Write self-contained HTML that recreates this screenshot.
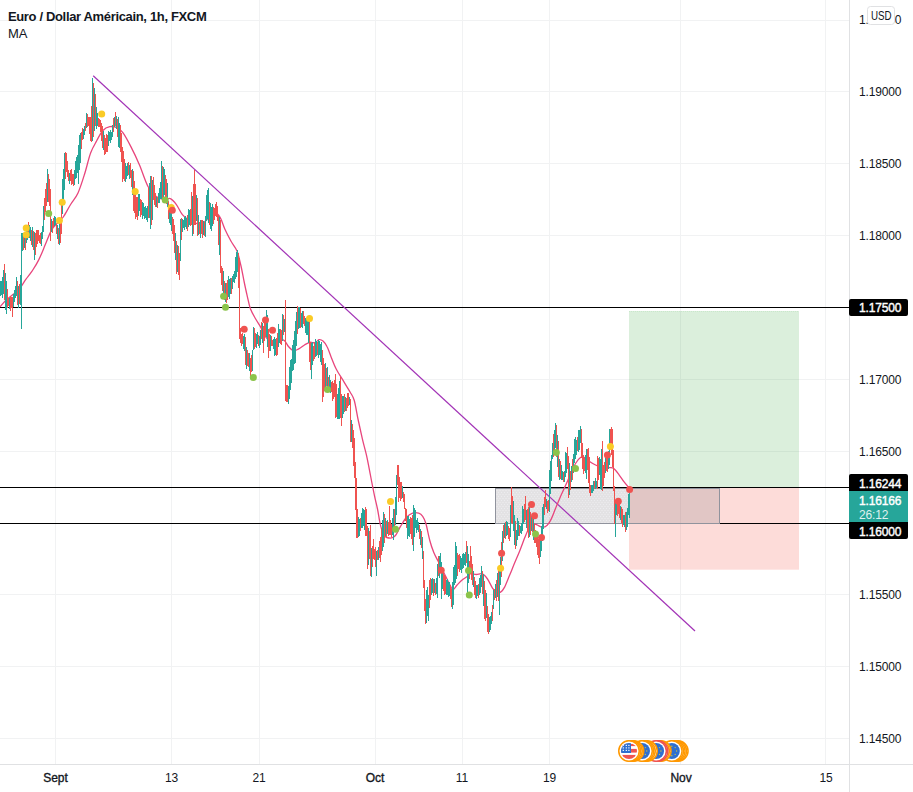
<!DOCTYPE html>
<html><head><meta charset="utf-8"><title>EURUSD</title>
<style>
html,body{margin:0;padding:0;background:#fff;}
body{width:913px;height:792px;position:relative;overflow:hidden;font-family:"Liberation Sans",sans-serif;color:#131722;}
.t{position:absolute;white-space:nowrap;}
.p{position:absolute;left:859px;font-size:12px;line-height:14px;letter-spacing:-0.15px;}
.x{position:absolute;top:771px;font-size:12px;line-height:14px;transform:translateX(-50%);letter-spacing:-0.05px;}
.m{-webkit-text-stroke:0.35px #131722;}
.lb{position:absolute;left:849px;width:59px;box-sizing:border-box;padding-left:10px;color:#fff;font-size:12px;letter-spacing:-0.15px;-webkit-text-stroke:0.4px #fff;overflow:hidden;}
</style></head><body>
<svg width="913" height="792" viewBox="0 0 913 792" style="position:absolute;left:0;top:0"><path d="M55.5 0V764M171.5 0V764M259.5 0V764M375.5 0V764M462.5 0V764M549.5 0V764M680.5 0V764M825.5 0V764M0 20.5H849M0 91.5H849M0 163.5H849M0 235.5H849M0 307.5H849M0 379.5H849M0 451.5H849M0 523.5H849M0 594.5H849M0 666.5H849M0 738.5H849" stroke="#f1f2f3" stroke-width="1" fill="none" shape-rendering="crispEdges"/><path d="M849.5 0V792M0 764.5H913" stroke="#e0e1e3" stroke-width="1" fill="none" shape-rendering="crispEdges"/><rect x="629" y="311" width="170" height="176.5" fill="rgba(76,175,80,0.2)"/><path d="M629 311.5H799" stroke="rgba(76,175,80,0.12)" stroke-width="1" stroke-dasharray="1 1" fill="none" shape-rendering="crispEdges"/><rect x="629" y="487.5" width="170" height="82.2" fill="rgba(244,67,54,0.19)"/><path d="M0 307.5H849M0 487.5H849M0 523.5H849" stroke="#000" stroke-width="1" fill="none" shape-rendering="crispEdges"/><defs><pattern id="dots" width="6" height="4" patternUnits="userSpaceOnUse"><rect x="0" y="0" width="1" height="1" fill="#ececef"/><rect x="3" y="0" width="1" height="1" fill="#ececef"/><rect x="1.5" y="2" width="1" height="1" fill="#eeeef0"/><rect x="4.5" y="2" width="1" height="1" fill="#eeeef0"/></pattern></defs><rect x="495.5" y="488.5" width="224" height="35" fill="rgba(115,112,120,0.2)" stroke="#90939d" stroke-width="1"/><rect x="496" y="489" width="133" height="34" fill="url(#dots)"/><path d="M93.2 75.8L695 631" stroke="#a233b6" stroke-width="1.2" fill="none"/><path d="M0.0 306.8C1.1 305.6 4.2 301.9 6.4 299.8C8.6 297.8 10.8 296.3 12.9 294.5C15.1 292.7 17.2 291.6 19.3 289.1C21.4 286.6 23.6 282.4 25.8 279.4C28.0 276.4 30.1 274.1 32.2 270.9C34.3 267.7 36.5 264.4 38.6 260.1C40.8 255.8 43.0 250.1 45.1 245.1C47.2 240.1 49.4 233.9 51.5 230.1C53.6 226.3 55.9 224.7 57.9 222.5C59.9 220.3 61.2 220.0 63.3 217.0C65.4 214.0 68.1 208.5 70.6 204.5C73.0 200.5 75.7 198.1 78.0 193.0C80.3 187.9 82.5 180.7 84.6 174.0C86.7 167.3 88.6 158.5 90.6 153.0C92.6 147.5 94.7 144.5 96.7 140.8C98.7 137.1 100.5 133.0 102.7 130.7C104.9 128.3 107.4 127.2 109.8 126.7C112.2 126.2 114.7 126.7 116.9 127.7C119.1 128.7 120.6 129.5 122.9 132.7C125.2 135.9 128.2 141.5 131.0 146.9C133.8 152.3 136.7 158.4 139.5 165.0C142.3 171.6 145.2 181.2 148.0 186.5C150.8 191.8 153.5 194.4 156.2 196.6C158.9 198.8 161.8 199.3 164.2 199.6C166.5 199.9 168.3 197.8 170.3 198.6C172.3 199.4 174.4 201.9 176.4 204.6C178.4 207.3 180.4 212.2 182.4 214.7C184.4 217.2 186.5 218.5 188.5 219.8C190.5 221.2 192.5 222.1 194.5 222.8C196.5 223.5 198.7 224.1 200.6 223.8C202.5 223.5 204.0 222.1 205.7 220.8C207.4 219.5 208.8 217.0 210.7 215.8C212.5 214.6 215.1 213.2 216.8 213.7C218.5 214.2 219.5 216.3 220.8 218.8C222.1 221.3 223.1 225.2 224.8 228.9C226.5 232.6 228.9 237.3 230.9 241.0C232.9 244.7 235.3 246.8 237.0 251.0C238.7 255.2 239.8 260.8 241.0 266.0C242.2 271.2 243.1 276.9 244.2 282.0C245.2 287.1 246.3 291.9 247.3 296.3C248.3 300.7 249.0 304.7 250.3 308.4C251.7 312.1 253.7 315.5 255.4 318.5C257.1 321.5 258.7 323.6 260.4 326.6C262.1 329.6 263.8 334.2 265.5 336.7C267.2 339.2 268.8 340.7 270.5 341.7C272.2 342.7 273.9 343.0 275.6 342.7C277.3 342.4 279.1 340.0 280.6 339.7C282.1 339.4 283.2 339.5 284.6 340.7C286.0 341.9 287.2 345.1 288.7 346.8C290.2 348.5 292.0 350.5 293.7 350.8C295.4 351.1 296.9 349.8 298.8 348.8C300.7 347.8 303.0 345.8 304.8 344.7C306.6 343.6 308.2 342.6 309.9 342.3C311.6 342.0 313.5 343.1 315.0 342.7C316.5 342.3 317.7 340.0 319.0 339.7C320.3 339.4 321.6 339.9 323.0 341.1C324.4 342.3 325.8 344.2 327.1 346.8C328.5 349.4 329.6 353.2 331.1 356.9C332.6 360.6 334.0 364.8 336.2 369.0C338.4 373.2 341.8 378.2 344.1 382.1C346.4 386.0 348.5 389.2 350.2 392.2C351.9 395.2 352.8 395.6 354.2 400.3C355.6 405.0 356.9 414.1 358.3 420.5C359.7 426.9 361.0 433.0 362.3 438.7C363.6 444.4 365.0 448.8 366.4 454.8C367.8 460.9 369.1 468.2 370.4 475.0C371.7 481.8 373.2 489.6 374.4 495.3C375.6 501.0 376.5 504.2 377.5 509.0C378.5 513.8 379.2 519.9 380.3 524.3C381.4 528.7 382.6 533.2 384.3 535.5C386.0 537.8 388.5 538.1 390.4 538.1C392.3 538.1 393.8 537.5 395.5 535.5C397.2 533.5 398.6 529.4 400.5 526.4C402.4 523.4 404.6 519.5 406.6 517.3C408.6 515.1 410.6 513.9 412.6 513.2C414.6 512.5 417.0 512.7 418.7 513.2C420.4 513.7 421.5 514.6 422.7 516.3C423.9 518.0 424.6 519.3 425.8 523.3C427.0 527.3 428.5 535.6 429.8 540.5C431.1 545.4 432.3 548.9 433.8 552.6C435.3 556.3 437.0 559.0 438.9 562.7C440.8 566.4 443.0 571.1 444.9 574.8C446.8 578.5 448.6 582.5 450.0 585.0C451.4 587.5 451.8 589.6 453.0 589.6C454.2 589.6 455.6 586.6 457.1 585.0C458.6 583.4 460.4 581.3 462.1 579.9C463.8 578.5 465.8 577.5 467.2 576.5C468.6 575.5 468.8 574.2 470.3 573.9C471.8 573.6 474.4 574.5 476.4 574.5C478.4 574.5 480.5 573.1 482.4 573.9C484.2 574.6 485.8 576.6 487.5 579.0C489.2 581.4 491.0 585.9 492.5 588.1C494.0 590.3 495.2 591.4 496.6 592.1C498.0 592.8 499.3 592.9 500.6 592.1C501.9 591.3 503.1 590.0 504.6 587.1C506.1 584.2 508.0 579.0 509.7 575.0C511.4 571.0 513.0 566.8 514.7 562.8C516.4 558.8 518.1 554.9 519.8 550.7C521.5 546.5 523.3 541.3 524.8 537.6C526.3 533.9 527.5 530.8 528.9 528.5C530.2 526.2 531.5 524.6 532.9 524.0C534.2 523.4 535.5 524.3 537.0 524.8C538.5 525.3 540.4 527.1 542.1 527.2C543.8 527.3 545.7 526.6 547.2 525.2C548.7 523.9 549.9 521.8 551.2 519.1C552.6 516.4 553.8 512.7 555.3 509.0C556.8 505.3 558.6 500.8 560.3 496.9C562.0 493.0 563.7 489.5 565.4 485.8C567.1 482.1 568.7 478.3 570.4 474.6C572.1 470.9 573.8 466.4 575.5 463.5C577.2 460.6 579.0 458.5 580.5 457.5C582.0 456.5 583.0 456.8 584.5 457.5C586.0 458.2 587.9 460.3 589.6 461.5C591.3 462.7 592.9 463.6 594.6 464.5C596.3 465.4 598.0 466.1 599.7 466.6C601.4 467.1 603.0 467.4 604.7 467.6C606.4 467.8 608.3 467.4 609.8 467.6C611.3 467.8 612.3 467.4 613.8 468.6C615.3 469.8 617.2 472.4 618.9 474.6C620.6 476.8 622.2 479.5 623.9 481.7C625.6 483.9 628.1 486.8 629.0 487.8" stroke="#e8457c" stroke-width="1.3" fill="none" stroke-linejoin="round"/><g shape-rendering="crispEdges"><path d="M0.5 281.3V296.1M1.5 280.5V295.0M2.5 277.1V298.0M3.5 270.1V294.4M5.5 272.8V310.1M6.5 281.1V314.0M9.5 298.4V308.9M13.5 293.8V306.9M14.5 289.5V302.1M15.5 285.8V298.4M16.5 276.5V296.2M18.5 285.5V308.1M20.5 274.5V304.7M21.5 232.7V328.9M22.5 232.8V251.2M24.5 234.3V247.8M26.5 226.1V243.2M27.5 225.5V239.7M29.5 224.7V238.0M30.5 227.2V241.2M32.5 227.1V246.9M34.5 231.9V260.0M41.5 231.5V245.7M42.5 226.4V239.1M43.5 206.3V231.6M47.5 169.4V201.6M51.5 219.1V231.6M54.5 216.4V225.5M55.5 216.7V225.0M57.5 225.0V238.7M59.5 223.3V244.9M62.5 178.7V214.0M63.5 169.3V204.3M64.5 153.4V189.7M69.5 172.5V184.4M74.5 170.4V185.3M75.5 161.0V178.7M76.5 156.6V178.4M77.5 154.8V173.0M78.5 145.2V183.7M79.5 135.3V170.3M80.5 133.2V162.5M83.5 129.3V138.5M84.5 126.4V134.6M86.5 113.2V128.3M92.5 78.1V141.3M94.5 88.1V130.6M96.5 107.0V128.8M97.5 112.6V126.3M103.5 131.3V149.6M108.5 130.9V146.2M109.5 132.2V141.4M110.5 130.1V142.9M111.5 131.7V139.6M112.5 124.7V136.5M114.5 116.6V126.9M116.5 115.8V128.7M118.5 116.9V146.5M119.5 122.9V147.8M125.5 163.3V182.2M126.5 165.6V178.5M127.5 162.5V176.4M129.5 165.1V179.2M132.5 168.8V194.9M138.5 194.2V215.5M139.5 194.1V211.3M142.5 201.9V219.2M143.5 202.5V216.3M144.5 207.3V219.1M145.5 205.8V218.2M146.5 208.1V219.7M147.5 205.5V222.2M149.5 183.0V218.1M150.5 176.3V228.9M152.5 180.0V220.2M156.5 196.9V207.3M158.5 193.2V203.3M159.5 188.1V202.8M160.5 181.5V199.3M161.5 161.2V199.1M163.5 166.9V196.9M164.5 169.4V194.9M167.5 182.7V206.6M169.5 204.8V223.3M170.5 209.1V224.5M171.5 211.0V230.6M175.5 233.1V260.1M177.5 244.7V272.4M180.5 218.5V261.2M182.5 219.4V232.4M183.5 220.3V227.9M184.5 217.3V229.6M185.5 216.1V227.3M186.5 218.3V229.0M188.5 209.2V226.9M189.5 209.8V225.4M192.5 196.0V235.7M196.5 195.2V220.5M198.5 215.4V234.7M200.5 220.2V237.5M203.5 221.3V235.2M205.5 216.0V237.3M206.5 194.9V221.0M207.5 190.3V219.0M208.5 187.9V222.8M210.5 202.8V229.0M211.5 206.8V230.7M212.5 204.2V225.8M219.5 216.9V254.9M223.5 270.9V295.2M225.5 282.7V301.9M228.5 275.9V296.9M229.5 279.2V298.5M230.5 277.5V293.7M232.5 276.3V288.6M233.5 273.5V282.3M234.5 270.6V282.8M235.5 256.8V278.5M236.5 252.2V277.2M237.5 250.4V272.3M243.5 336.2V349.0M244.5 333.9V350.8M246.5 346.6V368.6M249.5 353.2V371.0M252.5 350.2V370.7M253.5 326.6V350.3M256.5 334.2V347.5M257.5 331.5V343.6M259.5 335.8V348.4M260.5 330.1V345.4M262.5 323.0V343.3M266.5 309.9V337.2M267.5 315.3V347.3M270.5 335.0V350.6M273.5 339.3V348.5M274.5 337.4V356.0M275.5 338.9V354.9M278.5 324.1V346.7M279.5 329.3V342.5M282.5 314.0V341.1M284.5 318.9V332.0M288.5 385.8V404.1M289.5 366.6V398.6M290.5 359.5V390.3M291.5 358.8V382.7M292.5 344.6V371.2M293.5 339.5V370.2M294.5 330.9V364.3M295.5 321.1V362.6M296.5 312.2V345.5M298.5 306.8V329.2M299.5 306.5V328.2M301.5 312.7V327.4M302.5 311.0V327.9M305.5 317.5V332.8M306.5 319.1V334.6M307.5 320.9V335.4M308.5 320.4V342.7M311.5 343.0V378.6M312.5 342.2V365.3M315.5 338.9V357.4M316.5 340.9V356.2M318.5 339.7V358.0M319.5 340.8V354.6M320.5 343.6V362.3M321.5 342.2V365.3M325.5 363.2V389.3M327.5 366.8V387.2M329.5 375.3V392.4M330.5 379.8V392.7M337.5 394.3V419.3M338.5 387.8V418.8M339.5 380.5V418.7M342.5 396.1V417.6M343.5 396.4V414.3M345.5 396.5V411.4M349.5 397.2V405.4M351.5 419.9V442.2M358.5 516.9V536.9M359.5 519.2V536.1M361.5 512.9V528.0M362.5 508.2V527.7M363.5 508.7V526.0M364.5 509.9V529.7M368.5 527.6V565.4M371.5 548.4V577.3M376.5 550.7V576.1M378.5 547.4V559.8M382.5 519.9V550.7M383.5 511.7V546.8M385.5 517.7V535.8M387.5 519.6V534.0M392.5 518.1V534.8M393.5 509.4V539.6M395.5 496.6V525.4M396.5 474.5V514.9M402.5 485.8V497.8M407.5 515.8V539.1M408.5 515.6V535.9M409.5 519.0V536.9M413.5 504.7V550.9M414.5 507.8V536.5M415.5 509.9V527.9M416.5 519.6V533.1M417.5 518.1V530.1M418.5 522.1V531.9M420.5 528.5V544.6M422.5 537.0V559.3M426.5 590.1V622.6M427.5 587.2V615.8M428.5 594.7V620.7M431.5 578.5V594.7M432.5 577.7V592.7M434.5 579.1V592.9M436.5 577.8V594.0M437.5 564.1V597.6M439.5 556.2V578.3M440.5 552.7V572.9M441.5 562.3V599.2M442.5 569.4V588.7M446.5 579.6V595.2M447.5 578.8V595.0M448.5 582.4V596.8M449.5 581.8V596.3M452.5 581.8V608.5M453.5 567.1V605.0M454.5 564.6V584.5M455.5 541.9V583.4M456.5 546.2V579.1M460.5 556.2V570.4M461.5 557.5V573.0M462.5 554.0V569.2M463.5 553.1V568.3M464.5 554.1V564.7M465.5 552.0V565.9M467.5 546.2V593.0M468.5 553.5V582.7M473.5 571.3V586.9M476.5 585.3V599.1M477.5 584.6V595.8M479.5 577.6V595.1M480.5 575.1V593.0M481.5 565.5V586.6M483.5 574.3V606.2M486.5 592.5V617.5M489.5 617.2V632.2M490.5 615.6V630.3M491.5 611.9V623.9M493.5 589.9V608.5M495.5 584.0V598.3M497.5 573.4V597.0M499.5 571.4V614.6M500.5 556.7V585.1M502.5 530.7V561.3M504.5 523.4V538.3M506.5 521.2V536.2M507.5 521.8V535.2M510.5 504.5V536.8M513.5 500.9V531.0M514.5 514.9V544.9M516.5 530.1V546.0M517.5 517.8V540.2M518.5 521.0V536.0M520.5 525.6V533.0M521.5 523.1V534.2M522.5 505.8V530.8M523.5 508.7V524.3M526.5 509.6V528.4M529.5 506.2V536.7M531.5 515.8V530.5M533.5 517.4V540.0M540.5 535.8V557.1M541.5 525.9V550.7M542.5 506.6V541.3M543.5 503.7V529.4M546.5 499.1V509.4M549.5 470.1V511.7M550.5 461.3V494.0M551.5 455.1V480.9M552.5 442.5V458.7M554.5 429.9V452.6M555.5 422.5V447.9M557.5 435.0V466.9M559.5 458.6V480.3M561.5 464.8V480.4M562.5 470.7V480.0M564.5 470.5V481.9M565.5 452.2V476.8M566.5 452.6V472.5M569.5 462.5V494.9M571.5 466.0V482.0M573.5 453.7V473.1M574.5 438.9V462.9M575.5 436.6V458.6M576.5 440.2V455.1M578.5 430.3V451.6M579.5 429.5V450.1M580.5 425.6V442.9M585.5 454.7V472.5M586.5 449.1V479.1M591.5 485.2V492.7M592.5 485.4V492.6M593.5 481.0V491.0M595.5 478.3V488.7M596.5 481.2V488.4M599.5 457.0V475.1M600.5 459.1V488.5M601.5 449.0V490.2M605.5 458.1V473.0M608.5 450.5V469.2M609.5 429.2V464.5M615.5 499.7V537.1M616.5 500.3V515.3M620.5 505.5V520.4M623.5 515.3V525.4M624.5 514.6V526.7M626.5 512.2V529.7M627.5 507.6V526.5M628.5 494.0V514.9M629.5 491.1V518.3" stroke="#26a69a" stroke-width="1" fill="none"/><path d="M4.5 263.7V300.2M7.5 288.7V307.5M8.5 297.7V306.0M10.5 296.2V310.7M11.5 296.7V307.6M12.5 296.7V317.4M17.5 280.8V304.5M19.5 283.6V303.5M23.5 234.5V249.9M25.5 232.2V249.7M28.5 221.8V237.9M31.5 229.7V244.9M33.5 230.7V249.9M35.5 233.2V255.4M36.5 229.6V246.8M37.5 230.4V244.0M38.5 230.4V240.7M39.5 234.5V242.6M40.5 233.4V244.1M44.5 198.2V219.6M45.5 188.8V212.4M46.5 182.6V205.8M48.5 173.5V201.6M49.5 178.8V205.9M50.5 188.9V240.6M52.5 220.8V233.3M53.5 218.3V227.3M56.5 223.7V233.8M58.5 227.8V243.7M60.5 221.0V243.4M61.5 205.0V233.6M65.5 151.6V179.2M66.5 153.2V172.4M67.5 161.4V176.7M68.5 169.8V181.1M70.5 169.7V180.8M71.5 169.3V184.6M72.5 173.5V183.7M73.5 173.6V185.6M81.5 132.1V149.0M82.5 127.8V140.2M85.5 122.9V130.8M87.5 113.5V127.2M88.5 117.2V126.4M89.5 116.9V133.9M90.5 117.2V140.8M91.5 105.7V141.5M93.5 83.4V137.2M95.5 94.4V126.4M98.5 117.8V127.0M99.5 119.0V127.3M100.5 120.4V131.5M101.5 122.9V140.7M102.5 126.3V148.0M104.5 135.1V155.2M105.5 138.2V154.3M106.5 133.8V152.0M107.5 135.0V152.4M113.5 118.3V132.2M115.5 112.0V125.9M117.5 119.1V136.6M120.5 124.5V151.6M121.5 132.5V162.1M122.5 147.0V181.5M123.5 151.3V178.6M124.5 158.9V180.5M128.5 161.7V174.8M130.5 162.7V178.0M131.5 169.8V187.0M133.5 170.9V210.7M134.5 181.1V213.3M135.5 191.4V219.1M136.5 197.3V217.3M137.5 197.3V219.6M140.5 198.9V217.0M141.5 199.5V215.2M148.5 188.1V217.5M151.5 176.4V224.6M153.5 176.6V199.8M154.5 184.7V205.1M155.5 192.9V206.9M157.5 197.3V208.1M162.5 165.7V199.8M165.5 175.1V198.0M166.5 178.9V203.6M168.5 201.1V219.2M172.5 217.2V233.7M173.5 218.7V240.5M174.5 225.3V253.3M176.5 240.6V273.7M178.5 246.1V274.7M179.5 253.4V279.7M181.5 218.3V240.3M187.5 215.0V231.3M190.5 208.7V226.1M191.5 191.5V224.8M193.5 183.8V233.8M194.5 169.7V225.4M195.5 183.6V225.1M197.5 198.4V235.7M199.5 222.1V234.3M201.5 220.4V234.0M202.5 219.7V237.6M204.5 221.7V236.4M209.5 202.3V225.2M213.5 206.7V224.4M214.5 208.4V220.0M215.5 204.2V216.1M216.5 202.2V217.1M217.5 205.8V221.4M218.5 214.6V244.9M220.5 220.1V273.0M221.5 266.0V284.9M222.5 267.8V291.2M224.5 281.3V299.5M226.5 283.4V302.7M227.5 279.9V300.3M231.5 277.9V293.9M238.5 252.7V288.4M239.5 258.4V338.8M240.5 327.8V343.4M241.5 333.5V345.5M242.5 332.6V344.3M245.5 336.5V364.6M247.5 350.1V365.7M248.5 352.7V366.6M250.5 357.6V375.8M251.5 355.3V372.2M254.5 328.2V348.7M255.5 333.3V347.2M258.5 335.3V346.4M261.5 321.8V338.9M263.5 325.8V352.5M264.5 320.3V341.4M265.5 318.5V337.3M268.5 329.3V358.4M269.5 334.4V351.4M271.5 335.9V346.0M272.5 340.2V346.4M276.5 337.9V356.3M277.5 333.1V355.0M280.5 328.9V343.9M281.5 330.1V345.2M283.5 315.4V334.5M285.5 299.7V400.9M286.5 384.5V401.6M287.5 385.2V401.9M297.5 305.9V334.2M300.5 308.4V328.2M303.5 311.1V323.8M304.5 315.9V326.1M309.5 318.3V362.4M310.5 342.3V369.6M313.5 346.3V360.6M314.5 343.2V359.0M317.5 342.0V354.7M322.5 350.0V402.0M323.5 357.8V397.2M324.5 363.5V391.1M326.5 368.0V385.7M328.5 376.7V391.2M331.5 381.8V392.0M332.5 381.4V401.0M333.5 383.4V399.2M334.5 379.6V396.7M335.5 373.9V418.0M336.5 384.4V417.2M340.5 377.3V418.0M341.5 393.6V425.7M344.5 394.2V412.3M346.5 397.7V410.9M347.5 392.7V408.3M348.5 393.2V406.2M350.5 398.5V442.1M352.5 423.7V448.3M353.5 430.4V465.7M354.5 438.1V477.6M355.5 461.7V509.8M356.5 478.4V538.0M357.5 509.0V537.9M360.5 518.0V530.8M365.5 506.9V536.0M366.5 508.8V535.9M367.5 525.7V568.8M369.5 530.5V559.3M370.5 525.1V576.1M372.5 545.7V567.1M373.5 538.9V558.6M374.5 549.0V560.0M375.5 547.4V566.9M377.5 549.8V560.0M379.5 541.1V558.1M380.5 536.7V562.0M381.5 527.7V554.8M384.5 513.5V543.1M386.5 520.9V537.9M388.5 522.4V536.2M389.5 506.1V535.1M390.5 520.0V534.5M391.5 523.6V536.5M394.5 508.9V529.8M397.5 464.6V484.8M398.5 465.2V501.9M399.5 476.7V498.4M400.5 481.5V501.3M401.5 482.0V498.9M403.5 491.6V501.6M404.5 493.6V509.0M405.5 508.1V520.8M406.5 509.3V528.0M410.5 516.9V534.2M411.5 517.9V539.4M412.5 514.5V545.3M419.5 524.6V538.8M421.5 530.5V548.4M423.5 551.2V587.6M424.5 579.6V610.6M425.5 598.6V623.7M429.5 580.3V607.6M430.5 578.2V599.5M433.5 578.7V595.6M435.5 583.4V594.8M438.5 556.2V576.2M443.5 570.3V590.5M444.5 574.9V594.5M445.5 576.3V593.6M450.5 585.1V599.0M451.5 588.7V607.2M457.5 552.9V576.4M458.5 555.4V568.5M459.5 554.2V571.5M466.5 541.1V563.0M469.5 561.1V579.0M470.5 545.6V574.4M471.5 555.8V580.3M472.5 563.5V584.9M474.5 577.2V594.8M475.5 581.3V597.7M478.5 583.5V597.5M482.5 571.2V593.6M484.5 581.1V618.9M485.5 590.0V621.3M487.5 605.6V631.5M488.5 613.7V633.9M492.5 605.0V620.7M494.5 589.0V599.5M496.5 579.7V601.3M498.5 570.1V601.2M501.5 542.0V576.6M503.5 525.0V542.6M505.5 522.2V539.1M508.5 526.1V539.2M509.5 528.2V540.6M511.5 486.9V523.1M512.5 496.2V524.1M515.5 521.4V549.1M519.5 524.9V536.0M524.5 503.5V521.5M525.5 495.6V520.4M527.5 508.5V532.4M528.5 506.8V537.8M530.5 511.6V535.1M532.5 516.5V531.8M534.5 523.9V543.4M535.5 529.9V542.8M536.5 531.4V547.1M537.5 535.0V555.4M538.5 538.6V557.5M539.5 539.2V563.6M544.5 496.7V515.0M545.5 489.5V507.1M547.5 501.1V512.8M548.5 500.2V510.7M553.5 434.4V456.8M556.5 425.4V456.9M558.5 440.8V477.1M560.5 461.3V479.2M563.5 472.4V482.4M567.5 446.7V468.8M568.5 455.9V498.1M570.5 471.4V490.1M572.5 458.9V479.7M577.5 437.0V450.8M581.5 429.2V457.8M582.5 442.9V468.7M583.5 454.7V474.1M584.5 458.3V470.8M587.5 448.5V470.3M588.5 448.4V482.5M589.5 457.0V492.6M590.5 484.9V495.6M594.5 481.4V488.6M597.5 456.0V489.3M598.5 458.2V480.4M602.5 440.8V491.2M603.5 465.2V486.3M604.5 461.8V478.2M606.5 456.9V470.5M607.5 455.5V471.7M610.5 429.3V449.9M611.5 426.9V454.5M612.5 429.0V466.7M613.5 450.2V490.8M614.5 486.2V524.4M617.5 499.5V515.9M618.5 503.0V514.3M619.5 504.2V517.9M621.5 507.4V523.0M622.5 509.4V526.7M625.5 512.3V532.3" stroke="#ef5350" stroke-width="1" fill="none"/></g><circle cx="26.2" cy="227.9" r="3.5" fill="#facb26"/><circle cx="26.2" cy="234.8" r="3.5" fill="#facb26"/><circle cx="48.7" cy="213.5" r="3.5" fill="#8bc34a"/><circle cx="62.2" cy="202.3" r="3.5" fill="#facb26"/><circle cx="59.4" cy="220.4" r="3.5" fill="#facb26"/><circle cx="101.7" cy="114.1" r="3.5" fill="#facb26"/><circle cx="135.2" cy="191.4" r="3.5" fill="#facb26"/><circle cx="165.2" cy="200.1" r="3.5" fill="#8bc34a"/><circle cx="171.2" cy="207.6" r="3.5" fill="#facb26"/><circle cx="172.3" cy="210.3" r="3.5" fill="#ef5350"/><circle cx="223.6" cy="296.3" r="3.5" fill="#8bc34a"/><circle cx="225.5" cy="307.2" r="3.5" fill="#8bc34a"/><circle cx="244.2" cy="329.2" r="3.5" fill="#ef5350"/><circle cx="265.5" cy="320.1" r="3.5" fill="#ef5350"/><circle cx="272.5" cy="330.2" r="3.5" fill="#ef5350"/><circle cx="253.3" cy="377.5" r="3.5" fill="#8bc34a"/><circle cx="309.5" cy="318.5" r="3.5" fill="#facb26"/><circle cx="327.5" cy="389.6" r="3.5" fill="#8bc34a"/><circle cx="390.5" cy="501.4" r="3.5" fill="#facb26"/><circle cx="395.6" cy="529.2" r="3.5" fill="#8bc34a"/><circle cx="441.2" cy="570.3" r="3.5" fill="#ef5350"/><circle cx="468.5" cy="570.4" r="3.5" fill="#8bc34a"/><circle cx="469.3" cy="595.1" r="3.5" fill="#8bc34a"/><circle cx="501.6" cy="553.3" r="3.5" fill="#ef5350"/><circle cx="500.6" cy="568.3" r="3.5" fill="#facb26"/><circle cx="531.5" cy="504.4" r="3.5" fill="#ef5350"/><circle cx="534.5" cy="515.7" r="3.5" fill="#ef5350"/><circle cx="535.5" cy="534.1" r="3.5" fill="#8bc34a"/><circle cx="541.5" cy="537.4" r="3.5" fill="#ef5350"/><circle cx="556.3" cy="452.4" r="3.5" fill="#8bc34a"/><circle cx="575.5" cy="468.6" r="3.5" fill="#8bc34a"/><circle cx="610.4" cy="446.4" r="3.5" fill="#facb26"/><circle cx="607.4" cy="455.1" r="3.5" fill="#ef5350"/><circle cx="618.3" cy="501.3" r="3.5" fill="#ef5350"/><circle cx="629.6" cy="489.4" r="3.5" fill="#ef5350"/></svg>
<div class="t" style="left:7.9px;top:9px;font-size:13px;line-height:16px;font-weight:bold;letter-spacing:-0.34px;">Euro / Dollar Américain, 1h, FXCM</div>
<div class="t" style="left:7.9px;top:26px;font-size:13px;line-height:16px;">MA</div>
<div class="p" style="top:12.5px">1.19500</div>
<div class="p" style="top:84.5px">1.19000</div>
<div class="p" style="top:156.5px">1.18500</div>
<div class="p" style="top:228.5px">1.18000</div>
<div class="p" style="top:300.5px">1.17500</div>
<div class="p" style="top:372.5px">1.17000</div>
<div class="p" style="top:444.5px">1.16500</div>
<div class="p" style="top:516.5px">1.16000</div>
<div class="p" style="top:587.5px">1.15500</div>
<div class="p" style="top:659.5px">1.15000</div>
<div class="p" style="top:731.5px">1.14500</div>
<div class="x m" style="left:55.5px;">Sept</div>
<div class="x" style="left:171.5px;">13</div>
<div class="x" style="left:259px;">21</div>
<div class="x m" style="left:375px;">Oct</div>
<div class="x" style="left:462px;">11</div>
<div class="x" style="left:549.5px;">19</div>
<div class="x m" style="left:681px;">Nov</div>
<div class="x" style="left:826px;">15</div>
<div class="t" style="left:867px;top:6px;width:27.5px;height:18.5px;box-sizing:border-box;border:1px solid #e0e1e3;border-radius:3.5px;background:#fff;font-size:12.5px;line-height:19px;text-align:center;"><span style="display:inline-block;transform:scaleX(0.78);transform-origin:50% 50%;">USD</span></div>
<div class="lb" style="top:299px;height:17px;line-height:19px;background:#000;border-radius:2px;">1.17500</div>
<div class="lb" style="top:474px;height:17px;line-height:21px;background:#000;border-radius:2px 2px 0 0;">1.16244</div>
<div class="lb" style="top:491px;height:31px;background:#26a69a;line-height:14px;padding-top:3px;">1.16166<br><span style="-webkit-text-stroke:0;opacity:.85">26:12</span></div>
<div class="lb" style="top:522px;height:17px;line-height:21px;background:#000;border-radius:0 0 2px 2px;">1.16000</div>
<svg width="913" height="792" viewBox="0 0 913 792" style="position:absolute;left:0;top:0;pointer-events:none"><circle cx="677.8" cy="751" r="10.25" fill="#fff" stroke="#ff9800" stroke-width="1.5"/><circle cx="677.8" cy="751" r="8" fill="#2f6fd0"/><circle cx="682.6" cy="751.0" r="0.7" fill="#c9c040"/><circle cx="681.2" cy="754.4" r="0.7" fill="#c9c040"/><circle cx="677.8" cy="755.8" r="0.7" fill="#c9c040"/><circle cx="674.4" cy="754.4" r="0.7" fill="#c9c040"/><circle cx="673.0" cy="751.0" r="0.7" fill="#c9c040"/><circle cx="674.4" cy="747.6" r="0.7" fill="#c9c040"/><circle cx="677.8" cy="746.2" r="0.7" fill="#c9c040"/><circle cx="681.2" cy="747.6" r="0.7" fill="#c9c040"/><circle cx="676.3" cy="751" r="10.25" fill="#fff" stroke="#ff9800" stroke-width="1.5"/><circle cx="676.3" cy="751" r="8" fill="#2f6fd0"/><circle cx="681.1" cy="751.0" r="0.7" fill="#c9c040"/><circle cx="679.7" cy="754.4" r="0.7" fill="#c9c040"/><circle cx="676.3" cy="755.8" r="0.7" fill="#c9c040"/><circle cx="672.9" cy="754.4" r="0.7" fill="#c9c040"/><circle cx="671.5" cy="751.0" r="0.7" fill="#c9c040"/><circle cx="672.9" cy="747.6" r="0.7" fill="#c9c040"/><circle cx="676.3" cy="746.2" r="0.7" fill="#c9c040"/><circle cx="679.7" cy="747.6" r="0.7" fill="#c9c040"/><circle cx="674.8" cy="751" r="10.25" fill="#fff" stroke="#ff9800" stroke-width="1.5"/><circle cx="674.8" cy="751" r="8" fill="#2f6fd0"/><circle cx="679.6" cy="751.0" r="0.7" fill="#c9c040"/><circle cx="678.2" cy="754.4" r="0.7" fill="#c9c040"/><circle cx="674.8" cy="755.8" r="0.7" fill="#c9c040"/><circle cx="671.4" cy="754.4" r="0.7" fill="#c9c040"/><circle cx="670.0" cy="751.0" r="0.7" fill="#c9c040"/><circle cx="671.4" cy="747.6" r="0.7" fill="#c9c040"/><circle cx="674.8" cy="746.2" r="0.7" fill="#c9c040"/><circle cx="678.2" cy="747.6" r="0.7" fill="#c9c040"/><circle cx="673.3" cy="751" r="10.25" fill="#fff" stroke="#ff9800" stroke-width="1.5"/><circle cx="673.3" cy="751" r="8" fill="#2f6fd0"/><circle cx="678.1" cy="751.0" r="0.7" fill="#c9c040"/><circle cx="676.7" cy="754.4" r="0.7" fill="#c9c040"/><circle cx="673.3" cy="755.8" r="0.7" fill="#c9c040"/><circle cx="669.9" cy="754.4" r="0.7" fill="#c9c040"/><circle cx="668.5" cy="751.0" r="0.7" fill="#c9c040"/><circle cx="669.9" cy="747.6" r="0.7" fill="#c9c040"/><circle cx="673.3" cy="746.2" r="0.7" fill="#c9c040"/><circle cx="676.7" cy="747.6" r="0.7" fill="#c9c040"/><circle cx="671.8" cy="751" r="10.25" fill="#fff" stroke="#ff9800" stroke-width="1.5"/><circle cx="671.8" cy="751" r="8" fill="#2f6fd0"/><circle cx="676.6" cy="751.0" r="0.7" fill="#c9c040"/><circle cx="675.2" cy="754.4" r="0.7" fill="#c9c040"/><circle cx="671.8" cy="755.8" r="0.7" fill="#c9c040"/><circle cx="668.4" cy="754.4" r="0.7" fill="#c9c040"/><circle cx="667.0" cy="751.0" r="0.7" fill="#c9c040"/><circle cx="668.4" cy="747.6" r="0.7" fill="#c9c040"/><circle cx="671.8" cy="746.2" r="0.7" fill="#c9c040"/><circle cx="675.2" cy="747.6" r="0.7" fill="#c9c040"/><circle cx="660.8" cy="751" r="10.25" fill="#fff" stroke="#ff9800" stroke-width="1.5"/><circle cx="660.8" cy="751" r="8" fill="#2f6fd0"/><circle cx="665.6" cy="751.0" r="0.7" fill="#c9c040"/><circle cx="664.2" cy="754.4" r="0.7" fill="#c9c040"/><circle cx="660.8" cy="755.8" r="0.7" fill="#c9c040"/><circle cx="657.4" cy="754.4" r="0.7" fill="#c9c040"/><circle cx="656.0" cy="751.0" r="0.7" fill="#c9c040"/><circle cx="657.4" cy="747.6" r="0.7" fill="#c9c040"/><circle cx="660.8" cy="746.2" r="0.7" fill="#c9c040"/><circle cx="664.2" cy="747.6" r="0.7" fill="#c9c040"/><circle cx="659.1" cy="751" r="10.25" fill="#fff" stroke="#ff9800" stroke-width="1.5"/><circle cx="659.1" cy="751" r="8" fill="#2f6fd0"/><circle cx="663.9" cy="751.0" r="0.7" fill="#c9c040"/><circle cx="662.5" cy="754.4" r="0.7" fill="#c9c040"/><circle cx="659.1" cy="755.8" r="0.7" fill="#c9c040"/><circle cx="655.7" cy="754.4" r="0.7" fill="#c9c040"/><circle cx="654.3" cy="751.0" r="0.7" fill="#c9c040"/><circle cx="655.7" cy="747.6" r="0.7" fill="#c9c040"/><circle cx="659.1" cy="746.2" r="0.7" fill="#c9c040"/><circle cx="662.5" cy="747.6" r="0.7" fill="#c9c040"/><circle cx="657.6" cy="751" r="10.25" fill="#fff" stroke="#ef5350" stroke-width="1.5"/><circle cx="657.6" cy="751" r="8" fill="#2f6fd0"/><circle cx="662.4" cy="751.0" r="0.7" fill="#c9c040"/><circle cx="661.0" cy="754.4" r="0.7" fill="#c9c040"/><circle cx="657.6" cy="755.8" r="0.7" fill="#c9c040"/><circle cx="654.2" cy="754.4" r="0.7" fill="#c9c040"/><circle cx="652.8" cy="751.0" r="0.7" fill="#c9c040"/><circle cx="654.2" cy="747.6" r="0.7" fill="#c9c040"/><circle cx="657.6" cy="746.2" r="0.7" fill="#c9c040"/><circle cx="661.0" cy="747.6" r="0.7" fill="#c9c040"/><circle cx="656.1" cy="751" r="10.25" fill="#fff" stroke="#ef5350" stroke-width="1.5"/><circle cx="656.1" cy="751" r="8" fill="#2f6fd0"/><circle cx="660.9" cy="751.0" r="0.7" fill="#c9c040"/><circle cx="659.5" cy="754.4" r="0.7" fill="#c9c040"/><circle cx="656.1" cy="755.8" r="0.7" fill="#c9c040"/><circle cx="652.7" cy="754.4" r="0.7" fill="#c9c040"/><circle cx="651.3" cy="751.0" r="0.7" fill="#c9c040"/><circle cx="652.7" cy="747.6" r="0.7" fill="#c9c040"/><circle cx="656.1" cy="746.2" r="0.7" fill="#c9c040"/><circle cx="659.5" cy="747.6" r="0.7" fill="#c9c040"/><circle cx="647" cy="751" r="10.25" fill="#fff" stroke="#ff9800" stroke-width="1.5"/><circle cx="647" cy="751" r="8" fill="#2f6fd0"/><circle cx="651.8" cy="751.0" r="0.7" fill="#c9c040"/><circle cx="650.4" cy="754.4" r="0.7" fill="#c9c040"/><circle cx="647.0" cy="755.8" r="0.7" fill="#c9c040"/><circle cx="643.6" cy="754.4" r="0.7" fill="#c9c040"/><circle cx="642.2" cy="751.0" r="0.7" fill="#c9c040"/><circle cx="643.6" cy="747.6" r="0.7" fill="#c9c040"/><circle cx="647.0" cy="746.2" r="0.7" fill="#c9c040"/><circle cx="650.4" cy="747.6" r="0.7" fill="#c9c040"/><circle cx="645" cy="751" r="10.25" fill="#fff" stroke="#ff9800" stroke-width="1.5"/><circle cx="645" cy="751" r="8" fill="#2f6fd0"/><circle cx="649.8" cy="751.0" r="0.7" fill="#c9c040"/><circle cx="648.4" cy="754.4" r="0.7" fill="#c9c040"/><circle cx="645.0" cy="755.8" r="0.7" fill="#c9c040"/><circle cx="641.6" cy="754.4" r="0.7" fill="#c9c040"/><circle cx="640.2" cy="751.0" r="0.7" fill="#c9c040"/><circle cx="641.6" cy="747.6" r="0.7" fill="#c9c040"/><circle cx="645.0" cy="746.2" r="0.7" fill="#c9c040"/><circle cx="648.4" cy="747.6" r="0.7" fill="#c9c040"/><circle cx="643.5" cy="751" r="10.25" fill="#fff" stroke="#ff9800" stroke-width="1.5"/><circle cx="643.5" cy="751" r="8" fill="#2f6fd0"/><circle cx="648.3" cy="751.0" r="0.7" fill="#c9c040"/><circle cx="646.9" cy="754.4" r="0.7" fill="#c9c040"/><circle cx="643.5" cy="755.8" r="0.7" fill="#c9c040"/><circle cx="640.1" cy="754.4" r="0.7" fill="#c9c040"/><circle cx="638.7" cy="751.0" r="0.7" fill="#c9c040"/><circle cx="640.1" cy="747.6" r="0.7" fill="#c9c040"/><circle cx="643.5" cy="746.2" r="0.7" fill="#c9c040"/><circle cx="646.9" cy="747.6" r="0.7" fill="#c9c040"/><circle cx="642" cy="751" r="10.25" fill="#fff" stroke="#ff9800" stroke-width="1.5"/><circle cx="642" cy="751" r="8" fill="#2f6fd0"/><circle cx="646.8" cy="751.0" r="0.7" fill="#c9c040"/><circle cx="645.4" cy="754.4" r="0.7" fill="#c9c040"/><circle cx="642.0" cy="755.8" r="0.7" fill="#c9c040"/><circle cx="638.6" cy="754.4" r="0.7" fill="#c9c040"/><circle cx="637.2" cy="751.0" r="0.7" fill="#c9c040"/><circle cx="638.6" cy="747.6" r="0.7" fill="#c9c040"/><circle cx="642.0" cy="746.2" r="0.7" fill="#c9c040"/><circle cx="645.4" cy="747.6" r="0.7" fill="#c9c040"/><circle cx="633.5" cy="751" r="10.25" fill="#fff" stroke="#ff9800" stroke-width="1.5"/><circle cx="633.5" cy="751" r="8" fill="#2f6fd0"/><circle cx="638.3" cy="751.0" r="0.7" fill="#c9c040"/><circle cx="636.9" cy="754.4" r="0.7" fill="#c9c040"/><circle cx="633.5" cy="755.8" r="0.7" fill="#c9c040"/><circle cx="630.1" cy="754.4" r="0.7" fill="#c9c040"/><circle cx="628.7" cy="751.0" r="0.7" fill="#c9c040"/><circle cx="630.1" cy="747.6" r="0.7" fill="#c9c040"/><circle cx="633.5" cy="746.2" r="0.7" fill="#c9c040"/><circle cx="636.9" cy="747.6" r="0.7" fill="#c9c040"/><circle cx="632" cy="751" r="10.25" fill="#fff" stroke="#ff9800" stroke-width="1.5"/><circle cx="632" cy="751" r="8" fill="#2f6fd0"/><circle cx="636.8" cy="751.0" r="0.7" fill="#c9c040"/><circle cx="635.4" cy="754.4" r="0.7" fill="#c9c040"/><circle cx="632.0" cy="755.8" r="0.7" fill="#c9c040"/><circle cx="628.6" cy="754.4" r="0.7" fill="#c9c040"/><circle cx="627.2" cy="751.0" r="0.7" fill="#c9c040"/><circle cx="628.6" cy="747.6" r="0.7" fill="#c9c040"/><circle cx="632.0" cy="746.2" r="0.7" fill="#c9c040"/><circle cx="635.4" cy="747.6" r="0.7" fill="#c9c040"/><circle cx="630.5" cy="751" r="10.25" fill="#fff" stroke="#ff9800" stroke-width="1.5"/><circle cx="630.5" cy="751" r="8" fill="#2f6fd0"/><circle cx="635.3" cy="751.0" r="0.7" fill="#c9c040"/><circle cx="633.9" cy="754.4" r="0.7" fill="#c9c040"/><circle cx="630.5" cy="755.8" r="0.7" fill="#c9c040"/><circle cx="627.1" cy="754.4" r="0.7" fill="#c9c040"/><circle cx="625.7" cy="751.0" r="0.7" fill="#c9c040"/><circle cx="627.1" cy="747.6" r="0.7" fill="#c9c040"/><circle cx="630.5" cy="746.2" r="0.7" fill="#c9c040"/><circle cx="633.9" cy="747.6" r="0.7" fill="#c9c040"/><circle cx="629" cy="751" r="10.25" fill="#fff" stroke="#ff9800" stroke-width="1.5"/><clipPath id="usc"><circle cx="629" cy="751" r="8"/></clipPath><g clip-path="url(#usc)"><rect x="621" y="743" width="16" height="16" fill="#fff"/><rect x="621" y="743.9" width="16" height="2.2" fill="#ef5350"/><rect x="621" y="748.9" width="16" height="3.7" fill="#ef5350"/><rect x="621" y="754.9" width="16" height="4.1" fill="#ef5350"/><rect x="621" y="743" width="10" height="10" fill="#2f6fd0"/><rect x="622.7" y="744.8" width="1.2" height="1.2" fill="#fff"/><rect x="622.7" y="747.3" width="1.2" height="1.2" fill="#fff"/><rect x="622.7" y="749.8" width="1.2" height="1.2" fill="#fff"/><rect x="625.7" y="744.8" width="1.2" height="1.2" fill="#fff"/><rect x="625.7" y="747.3" width="1.2" height="1.2" fill="#fff"/><rect x="625.7" y="749.8" width="1.2" height="1.2" fill="#fff"/><rect x="628.3" y="744.8" width="1.2" height="1.2" fill="#fff"/><rect x="628.3" y="747.3" width="1.2" height="1.2" fill="#fff"/><rect x="628.3" y="749.8" width="1.2" height="1.2" fill="#fff"/></g></svg></body></html>
